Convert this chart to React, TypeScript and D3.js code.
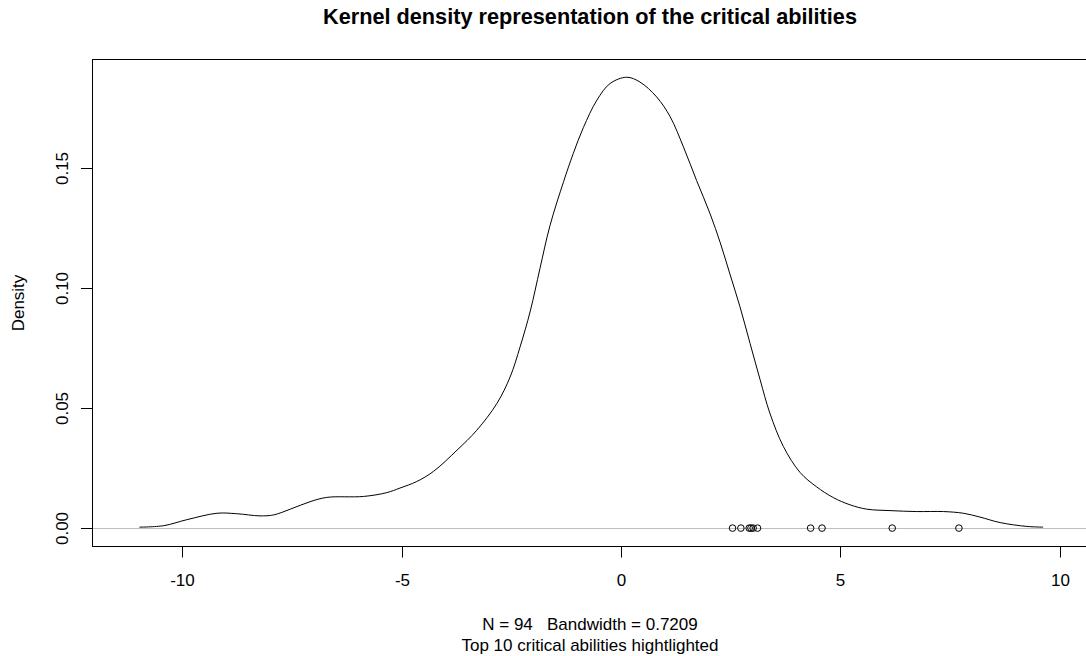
import React from "react";
import * as d3 from "d3";

const densityX = [-10.98, -10.43, -9.9, -9.21, -8.76, -8.23, -7.92, -7.54, -7.09, -6.71, -5.87, -5.34, -5.04, -4.66, -4.28, -3.74, -3.29, -2.83, -2.53, -2.3, -2.07, -1.85, -1.62, -1.31, -1.09, -0.86, -0.55, -0.25, 0.13, 0.43, 0.81, 1.12, 1.42, 1.72, 2.03, 2.26, 2.48, 2.71, 2.94, 3.17, 3.39, 3.7, 4.08, 4.45, 4.84, 5.22, 5.6, 6.13, 6.74, 7.35, 7.8, 8.18, 8.64, 9.25, 9.62];
const densityY = [0.0004, 0.001, 0.0035, 0.0062, 0.006, 0.0051, 0.0055, 0.0079, 0.011, 0.0128, 0.0132, 0.0148, 0.0167, 0.0194, 0.0236, 0.0325, 0.0408, 0.052, 0.063, 0.0757, 0.0905, 0.1082, 0.1262, 0.1445, 0.1562, 0.167, 0.1785, 0.1854, 0.188, 0.186, 0.1798, 0.1715, 0.159, 0.145, 0.131, 0.119, 0.106, 0.0923, 0.077, 0.0618, 0.048, 0.034, 0.0232, 0.0173, 0.0127, 0.0097, 0.0079, 0.0073, 0.0069, 0.0069, 0.0062, 0.0046, 0.0023, 0.0007, 0.0004];
const topAbilities = [2.54, 2.73, 2.92, 2.96, 3.01, 3.11, 4.32, 4.58, 6.18, 7.7];
const xTicks = [-10, -5, 0, 5, 10];
const yTicks = [0, 0.05, 0.1, 0.15];
const yTickLabels = ["0.00", "0.05", "0.10", "0.15"];

const title = "Kernel density representation of the critical abilities";
const subLine1 = "N = 94   Bandwidth = 0.7209";
const subLine2 = "Top 10 critical abilities hightlighted";
const yLabel = "Density";

const W = 1086;
const H = 656;
const FONT = "'Liberation Sans', Arial, Helvetica, sans-serif";

export default function App() {
  const left = 92, right = 1087, top = 59.5, bottom = 546.5;
  const x = d3.scaleLinear().domain([-12.06, 10.62]).range([left, right]);
  const y = d3.scaleLinear().domain([-0.00767, 0.1954]).range([bottom, top]);
  const pts = densityX.map((v, i) => [v, densityY[i]] as [number, number]);
  const line = d3
    .line<[number, number]>()
    .x((d) => x(d[0]))
    .y((d) => y(d[1]))
    .curve(d3.curveCatmullRom.alpha(0.5));
  const pathD = line(pts) || "";
  const y0 = Math.round(y(0)) + 0.5;

  return (
    <svg
      width={W}
      height={H}
      style={{ position: "absolute", left: 0, top: 0, background: "#fff" }}
      fontFamily={FONT}
    >
      <rect x={0} y={0} width={W} height={H} fill="#fff" />
      <text x={590} y={24} textAnchor="middle" fontSize={21.7} fontWeight="bold" fill="#000">
        {title}
      </text>
      {/* zero line */}
      <line x1={left} x2={right} y1={y0} y2={y0} stroke="#bebebe" strokeWidth={1} />
      {/* density curve */}
      <path d={pathD} fill="none" stroke="#000" strokeWidth={1} />
      {/* highlighted points */}
      {topAbilities.map((v, i) => (
        <circle key={i} cx={x(v)} cy={y(0)} r={3.3} fill="none" stroke="#000" strokeWidth={1} />
      ))}
      {/* box */}
      <rect x={left + 0.5} y={top} width={right - left} height={bottom - top} fill="none" stroke="#000" strokeWidth={1} />
      {/* x axis */}
      {xTicks.map((t) => {
        const px = Math.round(x(t)) + 0.5;
        return (
          <g key={t}>
            <line x1={px} x2={px} y1={bottom} y2={bottom + 11} stroke="#000" strokeWidth={1} />
            <text x={px} y={586} textAnchor="middle" fontSize={17} fill="#000">
              {t}
            </text>
          </g>
        );
      })}
      {/* y axis */}
      {yTicks.map((t, i) => {
        const py = Math.round(y(t)) + 0.5;
        return (
          <g key={t}>
            <line x1={left - 11} x2={left + 0.5} y1={py} y2={py} stroke="#000" strokeWidth={1} />
            <text
              transform={`translate(68,${py}) rotate(-90)`}
              textAnchor="middle"
              fontSize={17}
              fill="#000"
            >
              {yTickLabels[i]}
            </text>
          </g>
        );
      })}
      <text transform={`translate(24,${(top + bottom) / 2}) rotate(-90)`} textAnchor="middle" fontSize={17} fill="#000">
        {yLabel}
      </text>
      <text x={590} y={630} textAnchor="middle" fontSize={17} fill="#000" style={{ whiteSpace: "pre" }}>
        {subLine1}
      </text>
      <text x={590} y={651} textAnchor="middle" fontSize={17} fill="#000">
        {subLine2}
      </text>
    </svg>
  );
}
